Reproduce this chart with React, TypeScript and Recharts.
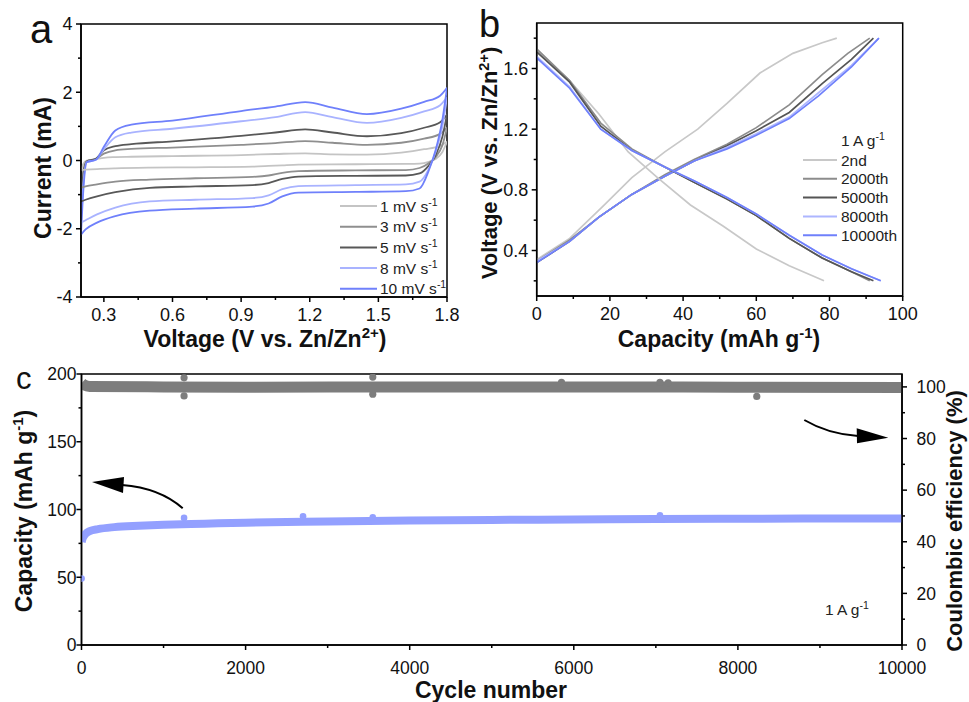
import React from 'react';
import { ComposedChart, Line, Scatter, XAxis, YAxis, ReferenceArea } from 'recharts';

const FONT = '"Liberation Sans", Arial, Helvetica, sans-serif';

// ---------- panel a : cyclic voltammetry ----------
const cvRates = ['1', '3', '5', '8', '10'];
const cvColors = ['#c4c4c4', '#8f8f8f', '#585858', '#a9b3ff', '#6f80fb'];
// anodic sweep (upper branch), voltage increasing
const cvUpV = [0.2, 0.21, 0.225, 0.265, 0.3, 0.35, 0.42, 0.6, 0.9, 1.05, 1.18, 1.3, 1.45, 1.6, 1.7, 1.77, 1.8];
const cvUp1 = [-0.28, -0.1, 0.0, 0.04, 0.08, 0.1, 0.11, 0.13, 0.16, 0.19, 0.21, 0.18, 0.17, 0.23, 0.33, 0.43, 0.55];
const cvUp3 = [-0.8, -0.3, -0.02, 0.05, 0.2, 0.3, 0.34, 0.38, 0.46, 0.51, 0.57, 0.52, 0.46, 0.52, 0.64, 0.78, 0.96];
const cvUp5 = [-1.2, -0.45, -0.03, 0.05, 0.3, 0.42, 0.48, 0.56, 0.72, 0.82, 0.91, 0.82, 0.71, 0.8, 0.96, 1.12, 1.35];
const cvUp8 = [-1.82, -0.7, -0.05, 0.02, 0.33, 0.68, 0.82, 0.93, 1.15, 1.27, 1.42, 1.27, 1.1, 1.25, 1.44, 1.62, 1.85];
const cvUp10 = [-2.17, -0.9, -0.05, 0.02, 0.4, 0.88, 1.05, 1.17, 1.45, 1.58, 1.71, 1.55, 1.36, 1.52, 1.72, 1.9, 2.13];
// cathodic sweep (lower branch), stored with voltage increasing
const cvDownV = [0.2, 0.22, 0.27, 0.35, 0.5, 0.7, 0.95, 1.02, 1.08, 1.15, 1.4, 1.62, 1.68, 1.72, 1.75, 1.78, 1.8];
const cvDown1 = [-0.28, -0.27, -0.25, -0.23, -0.21, -0.2, -0.18, -0.16, -0.14, -0.12, -0.11, -0.1, -0.09, -0.04, 0.04, 0.25, 0.55];
const cvDown3 = [-0.8, -0.76, -0.7, -0.62, -0.56, -0.52, -0.48, -0.44, -0.36, -0.31, -0.29, -0.28, -0.22, -0.08, 0.1, 0.45, 0.96];
const cvDown5 = [-1.2, -1.15, -1.05, -0.93, -0.8, -0.76, -0.72, -0.66, -0.54, -0.47, -0.45, -0.44, -0.38, -0.15, 0.15, 0.7, 1.35];
const cvDown8 = [-1.82, -1.75, -1.58, -1.38, -1.2, -1.15, -1.1, -1.02, -0.84, -0.75, -0.72, -0.7, -0.62, -0.25, 0.25, 1.0, 1.85];
const cvDown10 = [-2.17, -2.02, -1.82, -1.63, -1.47, -1.41, -1.35, -1.26, -1.05, -0.94, -0.92, -0.9, -0.82, -0.3, 0.3, 1.2, 2.13];
const cvUp = [cvUp1, cvUp3, cvUp5, cvUp8, cvUp10];
const cvDown = [cvDown1, cvDown3, cvDown5, cvDown8, cvDown10];

const aTicksX = [0.3, 0.45, 0.6, 0.75, 0.9, 1.05, 1.2, 1.35, 1.5, 1.65, 1.8];
const aMajorX = [0.3, 0.6, 0.9, 1.2, 1.5, 1.8];
const aTicksY = [-4, -3, -2, -1, 0, 1, 2, 3, 4];
const aMajorY = [-4, -2, 0, 2, 4];

// ---------- panel b : charge / discharge ----------
const gcdCycles = ['2nd', '2000th', '5000th', '8000th', '10000th'];
const gcdColors = ['#c8c8c8', '#8c8c8c', '#555555', '#adb6ff', '#6f80fb'];
const chgCap2 = [0, 9, 18, 26, 35, 44, 52, 61, 70, 78, 82];
const chgV2 = [0.34, 0.48, 0.69, 0.88, 1.05, 1.2, 1.37, 1.57, 1.7, 1.77, 1.8];
const dchCap2 = [0, 9, 17, 25, 33, 42, 51, 60, 69, 78.5];
const dchV2 = [1.72, 1.52, 1.3, 1.05, 0.88, 0.7, 0.56, 0.41, 0.3, 0.2];
const chgCap2000 = [0, 9, 17, 26, 35, 43, 52, 60, 69, 78, 85, 91];
const chgV2000 = [0.33, 0.47, 0.62, 0.77, 0.9, 1.0, 1.1, 1.21, 1.36, 1.56, 1.7, 1.8];
const dchCap2000 = [0, 9, 17.5, 26, 35, 43, 52, 60, 69, 78, 86, 91];
const dchV2000 = [1.73, 1.52, 1.24, 1.07, 0.95, 0.85, 0.74, 0.63, 0.48, 0.35, 0.26, 0.2];
const chgCap5000 = [0, 9, 17, 26, 35, 43, 52, 60, 69, 78, 86, 92];
const chgV5000 = [0.32, 0.46, 0.62, 0.77, 0.89, 0.99, 1.09, 1.19, 1.31, 1.5, 1.66, 1.8];
const dchCap5000 = [0, 9, 17.5, 26, 35, 43, 52, 60, 69, 78, 86, 92];
const dchV5000 = [1.71, 1.51, 1.22, 1.06, 0.95, 0.85, 0.74, 0.63, 0.48, 0.35, 0.26, 0.2];
const chgCap8000 = [0, 9, 17, 26, 35, 43, 52, 60, 69, 77, 86, 93.5];
const chgV8000 = [0.33, 0.46, 0.62, 0.77, 0.89, 0.99, 1.08, 1.17, 1.28, 1.44, 1.62, 1.8];
const dchCap8000 = [0, 9, 17.5, 26, 35, 43, 52, 60, 69, 78, 86, 94];
const dchV8000 = [1.68, 1.48, 1.2, 1.06, 0.95, 0.86, 0.75, 0.64, 0.5, 0.37, 0.28, 0.2];
const chgCap10000 = [0, 9, 17, 26, 35, 43, 52, 60, 69, 77, 86, 93.5];
const chgV10000 = [0.32, 0.46, 0.62, 0.77, 0.89, 0.99, 1.07, 1.16, 1.27, 1.42, 1.61, 1.8];
const dchCap10000 = [0, 9, 17.5, 26, 35, 43, 52, 60, 69, 78, 86, 94];
const dchV10000 = [1.67, 1.47, 1.2, 1.06, 0.95, 0.86, 0.75, 0.64, 0.5, 0.37, 0.28, 0.2];
const chgCaps = [chgCap2, chgCap2000, chgCap5000, chgCap8000, chgCap10000];
const chgVs = [chgV2, chgV2000, chgV5000, chgV8000, chgV10000];
const dchCaps = [dchCap2, dchCap2000, dchCap5000, dchCap8000, dchCap10000];
const dchVs = [dchV2, dchV2000, dchV5000, dchV8000, dchV10000];

const bTicksX = [0, 10, 20, 30, 40, 50, 60, 70, 80, 90, 100];
const bMajorX = [0, 20, 40, 60, 80, 100];
const bTicksY = [0.2, 0.4, 0.6, 0.8, 1.0, 1.2, 1.4, 1.6, 1.8];
const bMajorY = [0.4, 0.8, 1.2, 1.6];

// ---------- panel c : long cycling ----------
const capCycles = [2, 10, 25, 50, 100, 200, 400, 700, 1000, 1500, 2000, 3000, 4000, 5000, 6000, 7000, 8000, 9000, 10000];
const capValues = [76, 78, 80, 82, 84, 85.5, 87, 88, 88.7, 89.5, 90.3, 91.1, 91.8, 92.3, 92.6, 93, 93.2, 93.3, 93.3];
const capSpotCycles = [1, 1250, 2700, 3550, 7050];
const capSpotValues = [49, 93.8, 95, 94.2, 95.8];
const ceCycles = [2, 30, 100, 1000, 2000, 4000, 6000, 8000, 10000];
const ceValues = [101.5, 100.8, 100.2, 100, 99.9, 100, 100, 99.9, 99.8];
const ceSpotCycles = [1250, 1250, 3550, 3550, 8230, 5850, 7050, 7150];
const ceSpotValues = [103.5, 96.5, 103.8, 97.2, 96.3, 101.8, 101.8, 101.6];

const cTicksX = [0, 1000, 2000, 3000, 4000, 5000, 6000, 7000, 8000, 9000, 10000];
const cMajorX = [0, 2000, 4000, 6000, 8000, 10000];
const cTicksL = [0, 25, 50, 75, 100, 125, 150, 175, 200];
const cMajorL = [0, 50, 100, 150, 200];
const cTicksR = [0, 10, 20, 30, 40, 50, 60, 70, 80, 90, 100];
const cMajorR = [0, 20, 40, 60, 80, 100];

const pts = (xs: number[], ys: number[]) => xs.map((x, i) => ({ x, y: ys[i] }));

type Side = 'bottom' | 'left' | 'right';

const Tick = (props: any) => {
  const { x, y, payload, side, majors, fmt, fs, gap } = props;
  const v = payload.value as number;
  const major = majors.some((m: number) => Math.abs(m - v) < 1e-9);
  const len = major ? 5 : 3;
  if (side === 'bottom') {
    return (
      <g>
        <line x1={x} x2={x} y1={y} y2={y + len} stroke="#000" strokeWidth={1.5} />
        {major && (
          <text x={x} y={y + gap + fs * 0.72} textAnchor="middle" fontSize={fs} fontFamily={FONT} fill="#111">
            {fmt(v)}
          </text>
        )}
      </g>
    );
  }
  const dir = side === 'left' ? -1 : 1;
  return (
    <g>
      <line x1={x} x2={x + dir * len} y1={y} y2={y} stroke="#000" strokeWidth={1.5} />
      {major && (
        <text x={x + dir * gap} y={y + fs * 0.36} textAnchor={side === 'left' ? 'end' : 'start'} fontSize={fs} fontFamily={FONT} fill="#111">
          {fmt(v)}
        </text>
      )}
    </g>
  );
};

const tick = (side: Side, majors: number[], fmt: (v: number) => string, fs: number, gap: number) =>
  (p: any) => <Tick {...p} side={side} majors={majors} fmt={fmt} fs={fs} gap={gap} />;

const axisLine = { stroke: '#000', strokeWidth: 1.5 };

export default function App() {
  return (
    <div style={{ position: 'absolute', left: 0, top: 0, width: 969, height: 702, background: '#fff', fontFamily: FONT }}>
      {/* panel a */}
      <div style={{ position: 'absolute', left: 0, top: 0 }}>
        <ComposedChart width={470} height={360} margin={{ top: 24, right: 23, bottom: 62, left: 80 }}>
          <XAxis type="number" dataKey="x" domain={[0.2, 1.8]} allowDataOverflow ticks={aTicksX} interval={0}
            height={1} tickSize={0} tickMargin={0} tickLine={false} axisLine={axisLine}
            tick={tick('bottom', aMajorX, (v) => v.toFixed(1), 18, 11)} />
          <YAxis type="number" dataKey="y" domain={[-4, 4]} allowDataOverflow ticks={aTicksY} interval={0}
            width={1} tickSize={0} tickMargin={0} tickLine={false} axisLine={axisLine}
            tick={tick('left', aMajorY, (v) => String(v), 18, 8.5)} />
          <ReferenceArea x1={0.2} x2={1.8} y1={-4} y2={4} fill="none" stroke="#000" strokeWidth={1.5} />
          {cvRates.map((r, i) => (
            <Line key={'u' + r} data={pts(cvUpV, cvUp[i])} dataKey="y" type="monotone" stroke={cvColors[i]}
              strokeWidth={1.8} dot={false} isAnimationActive={false} name={`${r} mV s-1`} />
          ))}
          {cvRates.map((r, i) => (
            <Line key={'d' + r} data={pts(cvDownV, cvDown[i])} dataKey="y" type="monotone" stroke={cvColors[i]}
              strokeWidth={1.8} dot={false} isAnimationActive={false} legendType="none" />
          ))}
        </ComposedChart>
      </div>

      {/* panel b */}
      <div style={{ position: 'absolute', left: 470, top: 0 }}>
        <ComposedChart width={499} height={360} margin={{ top: 23, right: 66.3, bottom: 63, left: 65.7 }}>
          <XAxis type="number" dataKey="x" domain={[0, 100]} allowDataOverflow ticks={bTicksX} interval={0}
            height={1} tickSize={0} tickMargin={0} tickLine={false} axisLine={axisLine}
            tick={tick('bottom', bMajorX, (v) => String(v), 18, 11)} />
          <YAxis type="number" dataKey="y" domain={[0.1, 1.9]} allowDataOverflow ticks={bTicksY} interval={0}
            width={1} tickSize={0} tickMargin={0} tickLine={false} axisLine={axisLine}
            tick={tick('left', bMajorY, (v) => v.toFixed(1), 18, 8.5)} />
          <ReferenceArea x1={0} x2={100} y1={0.1} y2={1.9} fill="none" stroke="#000" strokeWidth={1.5} />
          {gcdCycles.map((c, i) => (
            <Line key={'c' + c} data={pts(chgCaps[i], chgVs[i])} dataKey="y" type="linear" stroke={gcdColors[i]}
              strokeWidth={1.7} dot={false} isAnimationActive={false} name={c} />
          ))}
          {gcdCycles.map((c, i) => (
            <Line key={'d' + c} data={pts(dchCaps[i], dchVs[i])} dataKey="y" type="linear" stroke={gcdColors[i]}
              strokeWidth={1.7} dot={false} isAnimationActive={false} legendType="none" />
          ))}
        </ComposedChart>
      </div>

      {/* panel c */}
      <div style={{ position: 'absolute', left: 0, top: 360 }}>
        <ComposedChart width={969} height={342} margin={{ top: 14, right: 66, bottom: 56, left: 80.5 }}>
          <XAxis type="number" dataKey="x" domain={[0, 10000]} allowDataOverflow ticks={cTicksX} interval={0}
            height={1} tickSize={0} tickMargin={0} tickLine={false} axisLine={axisLine}
            tick={tick('bottom', cMajorX, (v) => String(v), 17.5, 16.5)} />
          <YAxis yAxisId="cap" orientation="left" type="number" dataKey="y" domain={[0, 200]} allowDataOverflow
            ticks={cTicksL} interval={0} width={1} tickSize={0} tickMargin={0} tickLine={false} axisLine={axisLine}
            tick={tick('left', cMajorL, (v) => String(v), 17.5, 5)} />
          <YAxis yAxisId="ce" orientation="right" type="number" dataKey="y" domain={[0, 105]} allowDataOverflow
            ticks={cTicksR} interval={0} width={1} tickSize={0} tickMargin={0} tickLine={false} axisLine={axisLine}
            tick={tick('right', cMajorR, (v) => String(v), 17.5, 14.5)} />
          <ReferenceArea yAxisId="cap" x1={0} x2={10000} y1={0} y2={200} fill="none" stroke="#000" strokeWidth={1.5} />
          <Line yAxisId="ce" data={pts(ceCycles, ceValues)} dataKey="y" type="monotone" stroke="#7d7d7d"
            strokeWidth={11} dot={false} isAnimationActive={false} name="Coulombic efficiency" />
          <Scatter yAxisId="ce" data={pts(ceSpotCycles, ceSpotValues)} dataKey="y" fill="#7d7d7d" isAnimationActive={false}
            shape={(p: any) => <circle cx={p.cx} cy={p.cy} r={3.6} fill="#7d7d7d" />} />
          <Line yAxisId="cap" data={pts(capCycles, capValues)} dataKey="y" type="monotone" stroke="#93a0ff"
            strokeWidth={8} dot={false} isAnimationActive={false} name="Capacity" />
          <Scatter yAxisId="cap" data={pts(capSpotCycles, capSpotValues)} dataKey="y" fill="#93a0ff" isAnimationActive={false}
            shape={(p: any) => <circle cx={p.cx} cy={p.cy} r={3.3} fill="#93a0ff" />} />
        </ComposedChart>
      </div>

      {/* titles, legends and annotations */}
      <svg width={969} height={702} style={{ position: 'absolute', left: 0, top: 0, pointerEvents: 'none' }} fontFamily={FONT}>
        {/* panel letters */}
        <text x={30} y={43} fontSize={40} fill="#111">a</text>
        <text x={479} y={37} fontSize={38} fill="#111">b</text>
        <text x={16} y={389} fontSize={31} fill="#111">c</text>

        {/* panel a titles */}
        <text x={265} y={347} textAnchor="middle" fontSize={23} fontWeight="bold" fill="#111">
          <tspan>Voltage (V vs. Zn/Zn</tspan>
          <tspan dy={-9} fontSize={15}>2+</tspan>
          <tspan dy={9}>)</tspan>
        </text>
        <text transform="translate(51,168) rotate(-90)" textAnchor="middle" fontSize={23} fontWeight="bold" fill="#111">
          Current (mA)
        </text>
        {cvRates.map((r, i) => {
          const yy = 206 + i * 20.7;
          return (
            <g key={r}>
              <line x1={340} x2={377} y1={yy} y2={yy} stroke={cvColors[i]} strokeWidth={2} />
              <text x={380} y={yy + 5.5} fontSize={15.5} fill="#222">
                <tspan>{r} mV s</tspan>
                <tspan dy={-6} fontSize={10.5}>-1</tspan>
              </text>
            </g>
          );
        })}

        {/* panel b titles */}
        <text x={719} y={347} textAnchor="middle" fontSize={23} fontWeight="bold" fill="#111">
          <tspan>Capacity (mAh g</tspan>
          <tspan dy={-9} fontSize={15}>-1</tspan>
          <tspan dy={9}>)</tspan>
        </text>
        <text transform="translate(497,163) rotate(-90)" textAnchor="middle" fontSize={22} fontWeight="bold" fill="#111">
          <tspan>Voltage (V vs. Zn/Zn</tspan>
          <tspan dy={-8} fontSize={14.5}>2+</tspan>
          <tspan dy={8}>)</tspan>
        </text>
        <text x={841} y={145.5} fontSize={15.5} fill="#222">
          <tspan>1 A g</tspan>
          <tspan dy={-6} fontSize={10.5}>-1</tspan>
        </text>
        {gcdCycles.map((c, i) => {
          const yy = 160 + i * 18.8;
          return (
            <g key={c}>
              <line x1={803} x2={837} y1={yy} y2={yy} stroke={gcdColors[i]} strokeWidth={2} />
              <text x={841} y={yy + 5.5} fontSize={15.5} fill="#222">{c}</text>
            </g>
          );
        })}

        {/* panel c titles */}
        <text x={491} y={698} textAnchor="middle" fontSize={23} fontWeight="bold" fill="#111">Cycle number</text>
        <text transform="translate(32,511) rotate(-90)" textAnchor="middle" fontSize={23} fontWeight="bold" fill="#111">
          <tspan>Capacity (mAh g</tspan>
          <tspan dy={-9} fontSize={15}>-1</tspan>
          <tspan dy={9}>)</tspan>
        </text>
        <text transform="translate(962,521) rotate(-90)" textAnchor="middle" fontSize={22} fontWeight="bold" fill="#111">
          Coulombic efficiency (%)
        </text>
        <text x={825} y={615} fontSize={15.5} fill="#222">
          <tspan>1 A g</tspan>
          <tspan dy={-6} fontSize={10.5}>-1</tspan>
        </text>

        {/* arrows */}
        <path d="M182.7,508.3 Q160,488 122,485" fill="none" stroke="#000" strokeWidth={2} />
        <polygon points="92,482 124,477 123,493" fill="#000" />
        <path d="M804.3,420 Q828,434 858,436" fill="none" stroke="#000" strokeWidth={2} />
        <polygon points="888.3,437.7 856.7,428.3 857,443.3" fill="#000" />
      </svg>
    </div>
  );
}
